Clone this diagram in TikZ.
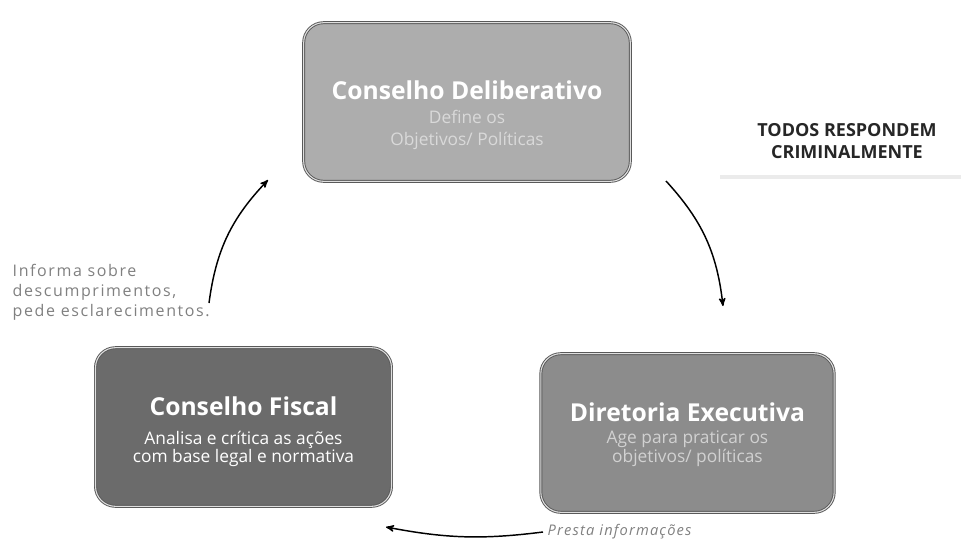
\documentclass[tikz,border=0pt]{standalone}
\usepackage{fontspec}
\setmainfont{Open Sans}
\usepackage{tikz}
\usetikzlibrary{arrows}
\usepackage{xcolor}
\definecolor{delibgray}{rgb}{0.68, 0.68, 0.68}
\definecolor{fiscalgray}{rgb}{0.42, 0.42, 0.42}
\definecolor{diretgray}{rgb}{0.55, 0.55, 0.55}

\begin{document}
\begin{tikzpicture}[x=0.75pt,y=-0.75pt]

		\tikzset{block/.style = {draw=black!65, line width=0.7pt, double=white!75!gray, double distance=0.8pt, rounded corners=15pt, minimum height=119pt}}
		\tikzset{title/.style = {text=white, font=\bfseries\fontsize{18.5}{22}\selectfont}}
		\tikzset{desc/.style = {align=center, font=\fontsize{13}{14}\selectfont}}
		\tikzset{note/.style = {text=black!50, align=left, font=\fontsize{12}{15}\selectfont\addfontfeatures{LetterSpace=10}}}
		\tikzset{edge/.style = {->,> = stealth', line width=1.1pt}}

		\useasboundingbox (0,0) rectangle (961,540);

		% boxes
		\node[block, fill = delibgray, minimum width=245pt] (delib) at (467,102) {};
		\node[block, fill = fiscalgray, minimum width=222pt] (fiscal) at (243.5,427) {};
		\node[block, fill = diretgray, minimum width=220pt] (diret) at (687.5,433) {};

		% box texts
		\node[title] (delibT) at (467,90) {Conselho Deliberativo};
		\node[desc, text = white!85!black, font=\fontsize{13}{16}\selectfont] (delibD) at (467,130) {Define os\\Objetivos/ Políticas};
		\node[title] (fiscalT) at (243.5,406) {Conselho Fiscal};
		\node[desc, text = white] (fiscalD) at (243.5,449) {Analisa e crítica as ações\\com base legal e normativa};
		\node[title] (diretT) at (687.5,412) {Diretoria Executiva};
		\node[desc, text = white!82!black] (diretD) at (687.5,449) {Age para praticar os\\objetivos/ políticas};

		% side texts
		\node[align=center, text = black!85, font=\bfseries\fontsize{13.5}{17}\selectfont] (todos) at (847,141) {TODOS RESPONDEM\\CRIMINALMENTE};
		\draw[black!8, line width=2.5pt] (720,177) -- (961,177);
		\node[note, anchor=west] (informa) at (8,292) {Informa sobre\\descumprimentos,\\pede esclarecimentos.};
		\node[note, anchor=west, font=\itshape\fontsize{11}{12}\selectfont\addfontfeatures{LetterSpace=8}] (presta) at (543,532) {Presta informações};

		% edges
		\coordinate (a1) at (666,181);
		\coordinate (a2) at (723,306);
		\coordinate (b1) at (209,303);
		\coordinate (b2) at (268,180);
		\coordinate (c2) at (386,527);
		\draw[edge] (a1) to[bend left=18] (a2);
		\draw[edge] (b1) to[bend left=18] (b2);
		\draw[edge] (presta.west) to[bend left=9] (c2);

\end{tikzpicture}
\end{document}
